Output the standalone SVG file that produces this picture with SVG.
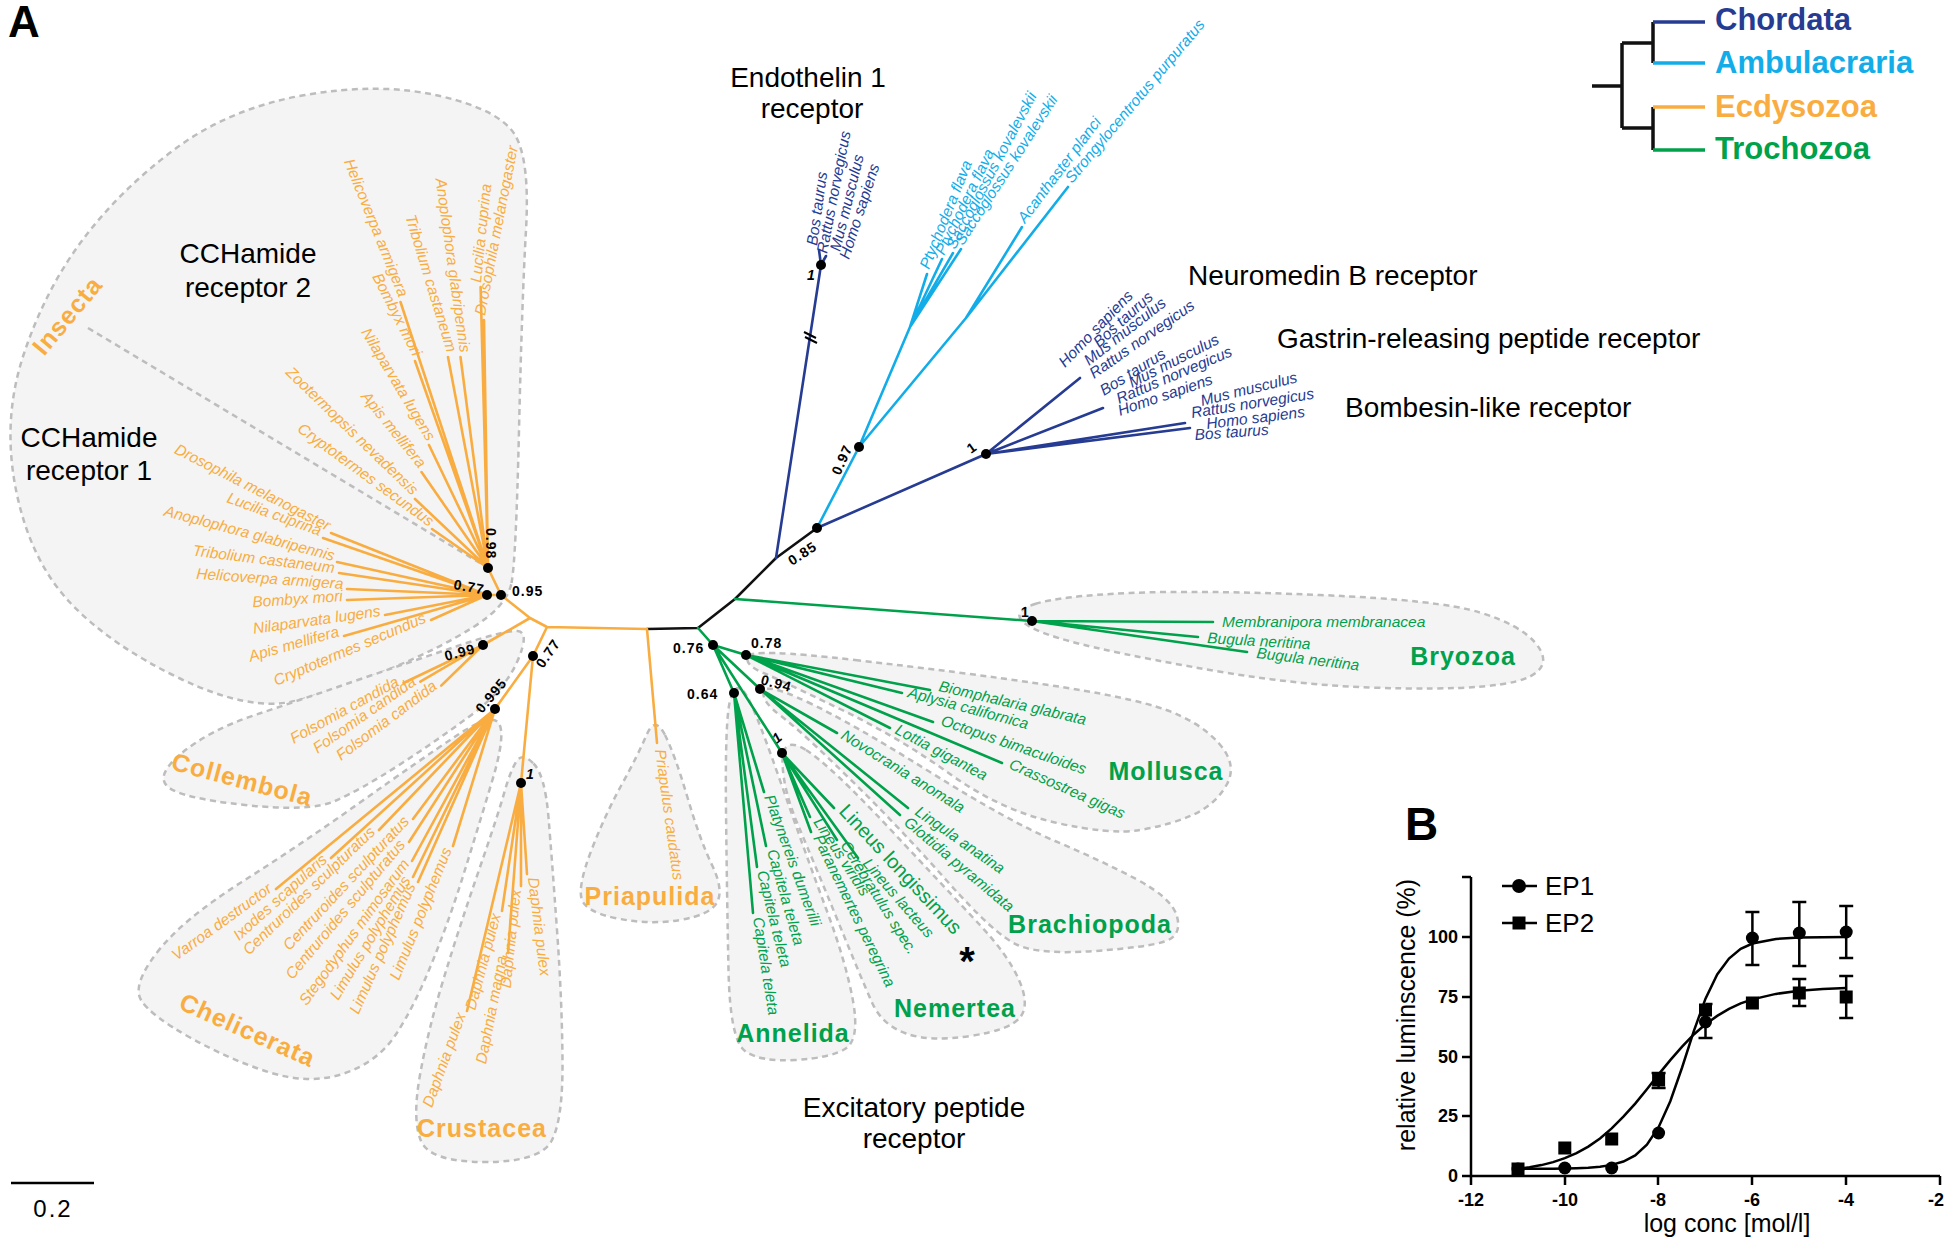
<svg xmlns="http://www.w3.org/2000/svg" width="1946" height="1238" viewBox="0 0 1946 1238">
<style>
.blob{fill:#f4f4f4;stroke:#bdbdbd;stroke-width:2.5;stroke-dasharray:6 4.5}
.br{fill:none;stroke-width:2.6;stroke-linecap:round;stroke-linejoin:round}
.o{stroke:#f9ad41}.g{stroke:#00a14b}.d{stroke:#263b92}.l{stroke:#12ade9}.k{stroke:#111}
.sp{font-family:"Liberation Sans",Arial,sans-serif;font-style:italic;font-size:15.5px}
.fo{fill:#f9ad41}.fg{fill:#00a14b}.fd{fill:#263b92}.fl{fill:#12ade9}
.bs{font-family:"Liberation Sans",Arial,sans-serif;font-weight:bold;font-size:14px;letter-spacing:1px;fill:#000}
.hd{font-family:"Liberation Sans",Arial,sans-serif;font-size:28px;fill:#000}
.cl{font-family:"Liberation Sans",Arial,sans-serif;font-weight:bold;font-size:25px;letter-spacing:1px}
.ax{font-family:"Liberation Sans",Arial,sans-serif;font-weight:bold;font-size:18px;fill:#000}
.nd{fill:#000}
</style>
<rect width="1946" height="1238" fill="#fff"/>
<text x="8" y="37" font-family="Liberation Sans, Arial, sans-serif" font-weight="bold" font-size="44">A</text>

<g id="blobs">
<path class="blob" d="M 511.5,583 Q 516,560 519,430 Q 522,300 526,230 Q 530,160 515,135 Q 500,110 440,96 Q 380,82 305,95 Q 230,108 175,149 Q 120,190 82.5,240 Q 45,290 23.5,355 Q 2,420 16,490 Q 30,560 70,602.5 Q 110,645 180,678.5 Q 250,712 295,701 Q 340,690 390,669 Q 440,648 473.5,627 Q 507,606 511.5,583 Z"/>
<path class="blob" d="M 182.5,752.5 Q 210,730 255,715 Q 300,700 355,681 Q 410,662 457.5,646 Q 505,630 517.5,631 Q 530,632 517.5,661 Q 505,690 470,716 Q 435,742 397.5,766 Q 360,790 335,801 Q 310,812 245,805 Q 180,798 167.5,786.5 Q 155,775 182.5,752.5 Z"/>
<path class="blob" d="M 157,952.5 Q 182,920 241,882.5 Q 300,845 360,802.5 Q 420,760 456,736 Q 492,712 499,723.5 Q 506,735 492,781.5 Q 478,828 464,873 Q 450,918 432.5,961.5 Q 415,1005 396.5,1033.5 Q 378,1062 344,1073.5 Q 310,1085 270,1072.5 Q 230,1060 190,1037.5 Q 150,1015 141,1000 Q 132,985 157,952.5 Z"/>
<path class="blob" d="M 533.5,763.5 Q 545,775 548.5,817.5 Q 552,860 557,930 Q 562,1000 562.5,1060 Q 563,1120 551.5,1141 Q 540,1162 485,1162 Q 430,1162 421,1141 Q 412,1120 420,1075 Q 428,1030 444,977.5 Q 460,925 479,870 Q 498,815 504,793.5 Q 510,772 516,762 Q 522,752 533.5,763.5 Z"/>
<path class="blob" d="M 665,735 Q 675,755 687.5,797.5 Q 700,840 712,865 Q 724,890 717,902.5 Q 710,915 680,920 Q 650,925 617.5,918.5 Q 585,912 581.5,898.5 Q 578,885 591.5,850 Q 605,815 621.5,785 Q 638,755 646.5,735 Q 655,715 665,735 Z"/>
<path class="blob" d="M 743.5,691 Q 752,700 779,777.5 Q 806,855 826,908.5 Q 846,962 853,1001 Q 860,1040 845,1049 Q 830,1058 795,1060 Q 760,1062 745,1051 Q 730,1040 728.5,970 Q 727,900 726,810 Q 725,720 730,701 Q 735,682 743.5,691 Z"/>
<path class="blob" d="M 806,750 Q 830,765 890,829 Q 950,893 979,924 Q 1008,955 1019,980 Q 1030,1005 1020,1017.5 Q 1010,1030 970,1036 Q 930,1042 906,1033.5 Q 882,1025 872,1002.5 Q 862,980 838.5,922.5 Q 815,865 799,827.5 Q 783,790 782.5,762.5 Q 782,735 806,750 Z"/>
<path class="blob" d="M 807.5,702 Q 850,722 930,772 Q 1010,822 1055,841 Q 1100,860 1136,879 Q 1172,898 1177,916.5 Q 1182,935 1166,941 Q 1150,947 1095,951 Q 1040,955 1017.5,945 Q 995,935 947.5,881.5 Q 900,828 850,779 Q 800,730 781,716 Q 762,702 763.5,692 Q 765,682 807.5,702 Z"/>
<path class="blob" d="M 855,660 Q 960,672 1045,684.5 Q 1130,697 1165,709.5 Q 1200,722 1219,743.5 Q 1238,765 1226.5,785 Q 1215,805 1192.5,815 Q 1170,825 1140,830 Q 1110,835 1055,822.5 Q 1000,810 950,774 Q 900,738 840,709 Q 780,680 762.5,672.5 Q 745,665 747.5,656.5 Q 750,648 855,660 Z"/>
<path class="blob" d="M 1035,604 Q 1060,596 1130,593 Q 1200,590 1320,595 Q 1440,600 1480,612.5 Q 1520,625 1535,642.5 Q 1550,660 1537.5,671.5 Q 1525,683 1482.5,686.5 Q 1440,690 1370,687.5 Q 1300,685 1225,672.5 Q 1150,660 1095,647.5 Q 1040,635 1025,623.5 Q 1010,612 1035,604 Z"/>
<path d="M88,328 L480,563" fill="none" stroke="#bdbdbd" stroke-width="2.5" stroke-dasharray="6 4.5"/>
</g>

<g id="connectors">
<path class="br k" stroke-width="3" d="M647,629 L698,628 L735,599 L776,558 L817,528"/>
<path class="br o" d="M647,629 L547,627 L530,618 L501,595 M530,618 L483,645 M547,627 L533,656 L495,709 M533,656 L521,783 M647,629 L657,743 M501,595 L488,568 M501,595 L487,595"/>
<path class="br o" d="M488,568 L400.5,302 M488,568 L415,361 M488,568 L448,357 M488,568 L460.5,357 M488,568 L480.6,287 M488,568 L484,320 M488,568 L429,445 M488,568 L421.5,472 M488,568 L415,499 M488,568 L432,529"/>
<path class="br o" d="M487,595 L331,533 M487,595 L323,538 M487,595 L337,562 M487,595 L339,573 M487,595 L347,589 M487,595 L347,600 M487,595 L385,615 M487,595 L344,636 M487,595 L431,620"/>
<path class="br o" d="M483,645 L403.5,683 M483,645 L420.3,681.7 M483,645 L441.2,685.6"/>
<path class="br o" d="M495,709 L276,889 M495,709 L331,858 M495,709 L379,830 M495,709 L413,819 M495,709 L409,842 M495,709 L412,861 M495,709 L413,877 M495,709 L418,882 M495,709 L453,846"/>
<path class="br o" d="M521,783 L467,1011 M521,783 L502,911 M521,783 L508,953 M521,783 L521,886 M521,783 L527,874"/>
<path class="br g" d="M698,628 L713,645 M735,599 L1032,621 M1032,621 L1213,622 M1032,621 L1198,637 M1032,621 L1247,652"/>
<path class="br g" d="M713,645 L746,655 M713,645 L760,689 M713,645 L734,693 M713,645 L782,753"/>
<path class="br g" d="M746,655 L930,690 M746,655 L902,693 M746,655 L933,722 M746,655 L890,728 M746,655 L1002,763"/>
<path class="br g" d="M760,689 L837,733 M760,689 L908,808 M760,689 L900,815"/>
<path class="br g" d="M734,693 L764,792 M734,693 L766,846 M734,693 L757,867 M734,693 L753,913"/>
<path class="br g" d="M782,753 L834,808 M782,753 L810,817 M782,753 L811,832 M782,753 L837,840 M782,753 L858,858"/>
<path class="br d" d="M776,558 L821,265 M821,265 L819,250 M821,265 L826,256 M817,528 L986,454 M986,454 L1080,378 M986,454 L1103,408 M986,454 L1185,423 M986,454 L1190,428"/>
<path class="br l" d="M817,528 L859,447 M859,447 L910,327 M910,327 L927,274 M910,327 L942,259 M910,327 L953,253 M910,327 L961,249 M859,447 L966,318 L1022,227 M966,318 L1068,187"/>
<path d="M804,332 L816,338 M805,337 L817,343" stroke="#000" stroke-width="2" fill="none"/>
</g>

<g id="nodes-dots">
<circle class="nd" cx="488" cy="568" r="5"/><circle class="nd" cx="487" cy="595" r="5"/><circle class="nd" cx="501" cy="595" r="5"/>
<circle class="nd" cx="483" cy="645" r="5"/><circle class="nd" cx="495" cy="709" r="5"/><circle class="nd" cx="533" cy="656" r="5"/>
<circle class="nd" cx="521" cy="783" r="5"/><circle class="nd" cx="817" cy="528" r="5"/><circle class="nd" cx="859" cy="447" r="5"/>
<circle class="nd" cx="821" cy="265" r="5"/><circle class="nd" cx="986" cy="454" r="5"/><circle class="nd" cx="1032" cy="621" r="5"/>
<circle class="nd" cx="713" cy="645" r="5"/><circle class="nd" cx="746" cy="655" r="5"/><circle class="nd" cx="760" cy="689" r="5"/>
<circle class="nd" cx="734" cy="693" r="5"/><circle class="nd" cx="782" cy="753" r="5"/>
</g>

<g id="support">
<text class="bs" transform="translate(486,528) rotate(90)">0.98</text>
<text class="bs" transform="translate(453,589) rotate(10)">0.77</text>
<text class="bs" x="512" y="596">0.95</text>
<text class="bs" transform="translate(446,661) rotate(-15)">0.99</text>
<text class="bs" transform="translate(482,714) rotate(-50)">0.995</text>
<text class="bs" transform="translate(543,669) rotate(-55)">0.77</text>
<text class="bs" font-style="italic" x="526" y="779">1</text>
<text class="bs" transform="translate(792,566) rotate(-33)">0.85</text>
<text class="bs" transform="translate(840,476) rotate(-66)">0.97</text>
<text class="bs" font-style="italic" x="807" y="280">1</text>
<text class="bs" transform="translate(971,454) rotate(-35)">1</text>
<text class="bs" x="1021" y="617">1</text>
<text class="bs" x="673" y="653">0.76</text>
<text class="bs" x="751" y="648">0.78</text>
<text class="bs" transform="translate(760,684) rotate(15)">0.94</text>
<text class="bs" x="687" y="699">0.64</text>
<text class="bs" font-style="italic" transform="translate(777,744) rotate(-40)">1</text>
</g>

<g id="headers">
<text class="hd" x="248" y="263" text-anchor="middle">CCHamide</text>
<text class="hd" x="248" y="297" text-anchor="middle">receptor 2</text>
<text class="hd" x="89" y="447" text-anchor="middle">CCHamide</text>
<text class="hd" x="89" y="480" text-anchor="middle">receptor 1</text>
<text class="hd" x="808" y="87" text-anchor="middle">Endothelin 1</text>
<text class="hd" x="812" y="118" text-anchor="middle">receptor</text>
<text class="hd" x="1188" y="285">Neuromedin B receptor</text>
<text class="hd" x="1277" y="348">Gastrin-releasing peptide receptor</text>
<text class="hd" x="1345" y="417">Bombesin-like receptor</text>
<text class="hd" x="914" y="1117" text-anchor="middle">Excitatory peptide</text>
<text class="hd" x="914" y="1148" text-anchor="middle">receptor</text>
</g>

<g id="insecta">
<text class="cl fo" text-anchor="middle" transform="translate(74,321) rotate(-50)">Insecta</text>
<g class="sp fo" text-anchor="end">
<text transform="translate(399,298) rotate(68)">Helicoverpa armigera</text>
<text transform="translate(413,357) rotate(63)">Bombyx mori</text>
<text transform="translate(447,353) rotate(73)">Tribolium castaneum</text>
<text transform="translate(460,353) rotate(82)">Anoplophora glabripennis</text>
<text transform="translate(427,442) rotate(59)">Nilaparvata lugens</text>
<text transform="translate(419,469) rotate(51)">Apis mellifera</text>
<text transform="translate(412,496) rotate(44)">Zootermopsis nevadensis</text>
<text transform="translate(429,527) rotate(36)">Cryptotermes secundus</text>
<text transform="translate(327,531) rotate(27)">Drosophila melanogaster</text>
<text transform="translate(319,536) rotate(20)">Lucilia cuprina</text>
<text transform="translate(333,561) rotate(15)">Anoplophora glabripennis</text>
<text transform="translate(334,573) rotate(7)">Tribolium castaneum</text>
<text transform="translate(343,589) rotate(4)">Helicoverpa armigera</text>
<text transform="translate(343,601) rotate(-4)">Bombyx mori</text>
<text transform="translate(381,616) rotate(-8)">Nilaparvata lugens</text>
<text transform="translate(340,636) rotate(-16)">Apis mellifera</text>
<text transform="translate(427,622) rotate(-23)">Cryptotermes secundus</text>
</g>
<g class="sp fo">
<text transform="translate(481,283) rotate(-84)">Lucilia cuprina</text>
<text transform="translate(485,316) rotate(-79)">Drosophila melanogaster</text>
</g>
</g>

<g id="collembola">
<text class="cl fo" text-anchor="middle" transform="translate(240,788) rotate(15)">Collembola</text>
<g class="sp fo" text-anchor="end">
<text transform="translate(400,685) rotate(-29)">Folsomia candida</text>
<text transform="translate(417,684) rotate(-35)">Folsomia candida</text>
<text transform="translate(438,688) rotate(-37)">Folsomia candida</text>
</g>
</g>

<g id="chelicerata">
<text class="cl fo" text-anchor="middle" transform="translate(244,1038) rotate(24)">Chelicerata</text>
<g class="sp fo" text-anchor="end">
<text transform="translate(273,891) rotate(-36)">Varroa destructor</text>
<text transform="translate(328,861) rotate(-42)">Ixodes scapularis</text>
<text transform="translate(376,833) rotate(-44)">Centruroides sculpturatus</text>
<text transform="translate(410,822) rotate(-47)">Centruroides sculpturatus</text>
<text transform="translate(406,845) rotate(-50)">Centruroides sculpturatus</text>
<text transform="translate(410,864) rotate(-54)">Stegodyphus mimosarum</text>
<text transform="translate(411,880) rotate(-59)">Limulus polyphemus</text>
<text transform="translate(416,886) rotate(-66)">Limulus polyphemus</text>
<text transform="translate(452,850) rotate(-68)">Limulus polyphemus</text>
</g>
</g>

<g id="crustacea">
<text class="cl fo" x="482" y="1137" text-anchor="middle">Crustacea</text>
<g class="sp fo" text-anchor="end">
<text transform="translate(466,1015) rotate(-70)">Daphnia pulex</text>
<text transform="translate(501,915) rotate(-75)">Daphnia pulex</text>
<text transform="translate(507,957) rotate(-79)">Daphnia magna</text>
<text transform="translate(521,890) rotate(-84)">Daphnia pulex</text>
</g>
<text class="sp fo" transform="translate(528,878) rotate(83)">Daphnia pulex</text>
</g>

<g id="priapulida">
<text class="cl fo" x="650" y="905" text-anchor="middle">Priapulida</text>
<text class="sp fo" font-size="14" transform="translate(655,750) rotate(82)">Priapulus caudatus</text>
</g>

<g id="endothelin">
<g class="sp fd" font-size="14.5">
<text transform="translate(817,246) rotate(-82)">Bos taurus</text>
<text transform="translate(827,254) rotate(-79)">Rattus norvegicus</text>
<text transform="translate(840,252) rotate(-76)">Mus musculus</text>
<text transform="translate(849,260) rotate(-72)">Homo sapiens</text>
</g>
</g>

<g id="ambulacraria">
<g class="sp fl" font-size="15">
<text transform="translate(929,270) rotate(-68)">Ptychodera flava</text>
<text transform="translate(944,256) rotate(-64)">Ptychodera flava</text>
<text transform="translate(955,250) rotate(-62)">Saccoglossus kovalevskii</text>
<text transform="translate(963,246) rotate(-57)">Saccoglossus kovalevskii</text>
<text transform="translate(1025,224) rotate(-53)">Acanthaster planci</text>
<text transform="translate(1072,184) rotate(-50)">Strongylocentrotus purpuratus</text>
</g>
</g>

<g id="bombesin-family">
<g class="sp fd">
<text transform="translate(1065,368) rotate(-46)">Homo sapiens</text>
<text transform="translate(1099,348) rotate(-42)">Bos taurus</text>
<text transform="translate(1089,366) rotate(-38)">Mus musculus</text>
<text transform="translate(1094,379) rotate(-35)">Rattus norvegicus</text>
<text transform="translate(1104,396) rotate(-32)">Bos taurus</text>
<text transform="translate(1132,388) rotate(-27)">Mus musculus</text>
<text transform="translate(1119,404) rotate(-23)">Rattus norvegicus</text>
<text transform="translate(1120,416) rotate(-19)">Homo sapiens</text>
<text transform="translate(1202,406) rotate(-14)">Mus musculus</text>
<text transform="translate(1192,418) rotate(-9)">Rattus norvegicus</text>
<text transform="translate(1207,429) rotate(-7)">Homo sapiens</text>
<text transform="translate(1195,440) rotate(-4)">Bos taurus</text>
</g>
</g>

<g id="bryozoa">
<text class="cl fg" x="1463" y="665" text-anchor="middle">Bryozoa</text>
<g class="sp fg">
<text x="1222" y="627">Membranipora membranacea</text>
<text transform="translate(1207,643) rotate(3.5)">Bugula neritina</text>
<text transform="translate(1256,658) rotate(7)">Bugula neritina</text>
</g>
</g>

<g id="mollusca">
<text class="cl fg" x="1166" y="780" text-anchor="middle">Mollusca</text>
<g class="sp fg">
<text transform="translate(938,691) rotate(13)">Biomphalaria glabrata</text>
<text transform="translate(907,697) rotate(15)">Aplysia californica</text>
<text transform="translate(940,725) rotate(19)">Octopus bimaculoides</text>
<text transform="translate(894,733) rotate(28)">Lottia gigantea</text>
<text transform="translate(1008,768) rotate(24)">Crassostrea gigas</text>
</g>
</g>

<g id="brachiopoda">
<text class="cl fg" x="1090" y="933" text-anchor="middle">Brachiopoda</text>
<g class="sp fg">
<text transform="translate(840,738) rotate(32)">Novocrania anomala</text>
<text transform="translate(914,814) rotate(35)">Lingula anatina</text>
<text transform="translate(903,824) rotate(40)">Glottidia pyramidata</text>
</g>
</g>

<g id="annelida">
<text class="cl fg" x="793" y="1042" text-anchor="middle">Annelida</text>
<g class="sp fg">
<text transform="translate(764,797) rotate(70)">Platynereis dumerilii</text>
<text transform="translate(767,851) rotate(74)">Capitela teleta</text>
<text transform="translate(757,872) rotate(76)">Capitela teleta</text>
<text transform="translate(753,918) rotate(81)">Capitela teleta</text>
</g>
</g>

<g id="nemertea">
<text class="cl fg" x="955" y="1017" text-anchor="middle">Nemertea</text>
<g class="sp fg">
<text transform="translate(813,822) rotate(57)">Lineus viridis</text>
<text transform="translate(813,838) rotate(64)">Paranemertes peregrina</text>
<text transform="translate(840,845) rotate(58)">Cerebratulus spec.</text>
<text transform="translate(862,864) rotate(49)">Lineus lacteus</text>
</g>
<text class="fg" font-family="Liberation Sans, Arial, sans-serif" font-size="20" transform="translate(838,812) rotate(47)">Lineus longissimus</text>
<text x="967" y="975" text-anchor="middle" font-family="Liberation Sans, Arial, sans-serif" font-weight="bold" font-size="40">*</text>
</g>

<g id="scalebar">
<path d="M11,1183 L94,1183" stroke="#000" stroke-width="2.5"/>
<text x="53" y="1217" text-anchor="middle" font-family="Liberation Sans, Arial, sans-serif" font-size="24" letter-spacing="2">0.2</text>
</g>

<g id="legend-tree">
<path d="M1592,86 H1622 M1622,43 V128 M1622,43 H1653 M1653,22 V63 M1622,128 H1653 M1653,107 V150" stroke="#111" stroke-width="3.5" fill="none"/>
<path d="M1653,22 H1705" stroke="#263b92" stroke-width="3.5"/>
<path d="M1653,63 H1705" stroke="#12ade9" stroke-width="3.5"/>
<path d="M1653,107 H1705" stroke="#f9ad41" stroke-width="3.5"/>
<path d="M1653,150 H1705" stroke="#00a14b" stroke-width="3.5"/>
<g font-family="Liberation Sans, Arial, sans-serif" font-weight="bold" font-size="31">
<text x="1715" y="30" fill="#263b92">Chordata</text>
<text x="1715" y="73" fill="#12ade9">Ambulacraria</text>
<text x="1715" y="117" fill="#f9ad41">Ecdysozoa</text>
<text x="1715" y="159" fill="#00a14b">Trochozoa</text>
</g>
</g>

<g id="panelB">
<text x="1405" y="840" font-family="Liberation Sans, Arial, sans-serif" font-weight="bold" font-size="46">B</text>
<path d="M1471,877 V1176 H1940" stroke="#000" stroke-width="2.5" fill="none"/>
<path d="M1462,1176 H1471 M1462,1116 H1471 M1462,1057 H1471 M1462,997 H1471 M1462,937 H1471 M1462,877 H1471 M1471,1176 V1185 M1565,1176 V1185 M1658,1176 V1185 M1752,1176 V1185 M1846,1176 V1185 M1940,1176 V1185" stroke="#000" stroke-width="2.5"/>
<g class="ax" text-anchor="end">
<text x="1458" y="1182">0</text>
<text x="1458" y="1122">25</text>
<text x="1458" y="1063">50</text>
<text x="1458" y="1003">75</text>
<text x="1458" y="943">100</text>
</g>
<g class="ax" text-anchor="middle">
<text x="1471" y="1206">-12</text>
<text x="1565" y="1206">-10</text>
<text x="1658" y="1206">-8</text>
<text x="1752" y="1206">-6</text>
<text x="1846" y="1206">-4</text>
<text x="1936" y="1206">-2</text>
</g>
<text x="1727" y="1232" text-anchor="middle" font-family="Liberation Sans, Arial, sans-serif" font-size="25">log conc [mol/l]</text>
<text transform="translate(1415,1015) rotate(-90)" text-anchor="middle" font-family="Liberation Sans, Arial, sans-serif" font-size="25">relative luminscence (%)</text>
<polyline fill="none" stroke="#000" stroke-width="2.5" points="1518,1168.8 1529.6,1168.8 1541.4,1168.7 1553.1,1168.7 1564.8,1168.5 1576.5,1168.2 1588.3,1167.7 1600,1166.7 1611.7,1164.9 1623.4,1161.5 1635.2,1155.4 1646.9,1144.7 1658.6,1127.2 1670.3,1101.2 1682.1,1067.5 1693.8,1031.2 1705.5,998.7 1717.2,974.5 1729,958.5 1740.7,948.9 1752.4,943.5 1775.9,938.9 1799.3,937.5 1822.8,937.2 1846.2,937"/>
<polyline fill="none" stroke="#000" stroke-width="2.5" points="1518,1169 1529.6,1167.3 1541.4,1165.1 1553.1,1162.1 1564.8,1158.2 1576.5,1153.1 1588.3,1146.6 1600,1138.4 1611.7,1128.4 1623.4,1116.7 1635.2,1103.6 1646.9,1089.2 1658.6,1074.4 1670.3,1060.1 1682.1,1046.7 1693.8,1034.5 1705.5,1024.2 1717.2,1015.9 1729,1008.9 1740.7,1003.4 1752.4,999.4 1775.9,993.9 1799.3,990.8 1822.8,989.1 1846.2,988.1"/>
<path stroke="#000" stroke-width="2.5" fill="none" d="M1705.5,1007 V1038 M1698.5,1038 H1712.5 M1752.4,912 V965 M1745.4,912 H1759.4 M1745.4,965 H1759.4 M1799.3,902 V966 M1792.3,902 H1806.3 M1792.3,966 H1806.3 M1846.2,906 V958 M1839.2,906 H1853.2 M1839.2,958 H1853.2 M1658.6,1073 V1088 M1651.6,1088 H1665.6 M1651.6,1073 H1665.6 M1705.5,1004 H1712.5 M1799.3,979 V1006 M1792.3,979 H1806.3 M1792.3,1006 H1806.3 M1846.2,976 V1018 M1839.2,976 H1853.2 M1839.2,1018 H1853.2"/>
<g fill="#000">
<circle cx="1518" cy="1169" r="6.5"/><circle cx="1564.8" cy="1168" r="6.5"/><circle cx="1611.7" cy="1168" r="6.5"/><circle cx="1658.6" cy="1133" r="6.5"/><circle cx="1705.5" cy="1022" r="6.5"/><circle cx="1752.4" cy="938" r="6.5"/><circle cx="1799.3" cy="933" r="6.5"/><circle cx="1846.2" cy="932" r="6.5"/>
<rect x="1511.5" y="1162.5" width="13" height="13"/><rect x="1558.3" y="1141.5" width="13" height="13"/><rect x="1605.2" y="1132.5" width="13" height="13"/><rect x="1652.1" y="1073.5" width="13" height="13"/><rect x="1699" y="1003.5" width="13" height="13"/><rect x="1745.9" y="996.5" width="13" height="13"/><rect x="1792.8" y="986.5" width="13" height="13"/><rect x="1839.7" y="990.5" width="13" height="13"/>
</g>
<path d="M1502,886 H1537 M1502,923 H1537" stroke="#000" stroke-width="2.5"/>
<circle cx="1519" cy="886" r="7"/>
<rect x="1512.5" y="916.5" width="13" height="13"/>
<g font-family="Liberation Sans, Arial, sans-serif" font-size="26">
<text x="1545" y="895">EP1</text>
<text x="1545" y="932">EP2</text>
</g>
</g>
</svg>
